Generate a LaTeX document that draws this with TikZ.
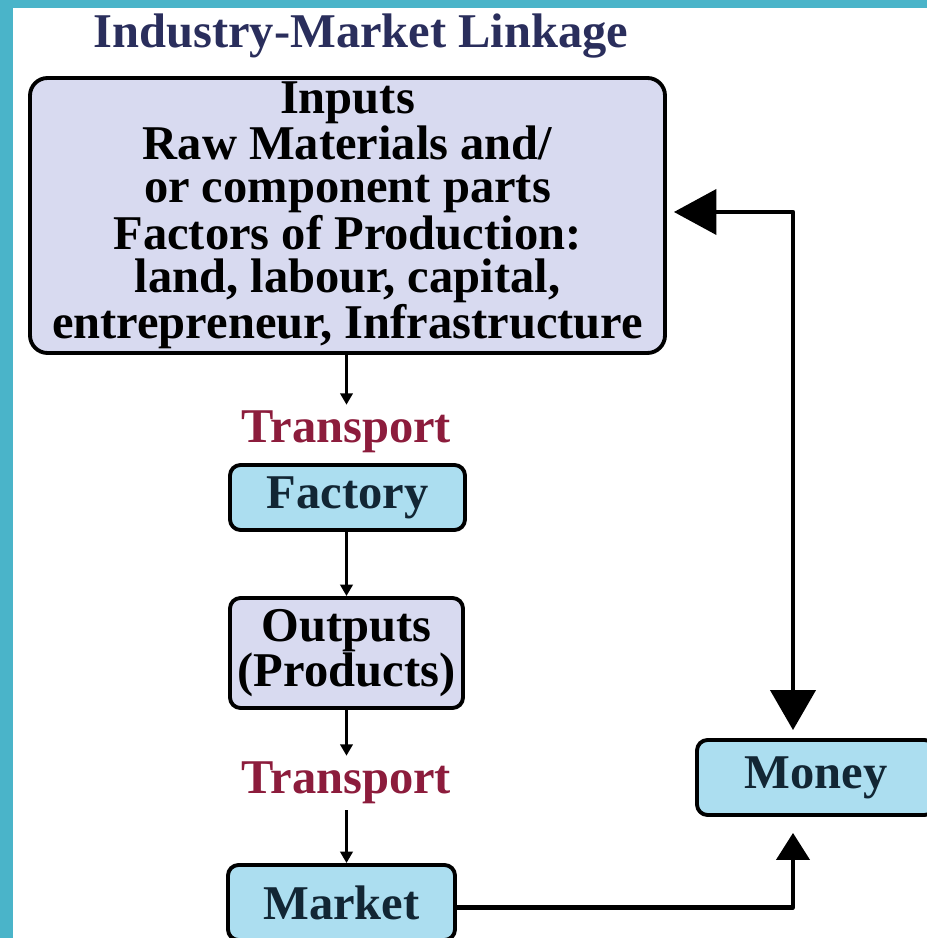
\documentclass[tikz,border=0pt]{standalone}
\usepackage{fontspec}
\setmainfont{Liberation Serif}
\usetikzlibrary{arrows.meta}

\definecolor{frame}{RGB}{74,180,201}
\definecolor{lavender}{RGB}{216,218,240}
\definecolor{skyfill}{RGB}{172,222,240}
\definecolor{titleblue}{RGB}{42,46,92}
\definecolor{transred}{RGB}{140,28,60}
\definecolor{ink}{RGB}{18,38,52}

\begin{document}
\begin{tikzpicture}[line join=round,
  font=\fontsize{27.6}{24.6}\selectfont\bfseries,
  box/.style={draw, line width=2.2pt, rounded corners=6pt, align=center, inner sep=0pt},
  flow/.style={-{Triangle[length=6.5pt,width=7pt]}, line width=1.8pt},
  link/.style={line width=2.4pt}]
  \useasboundingbox (0,0) rectangle (18.54,18.76);
  \fill[frame] (0,0) rectangle (.26,18.76);
  \fill[frame] (0,18.6) rectangle (18.54,18.76);
  \node[titleblue, anchor=base] (title) at (7.22,17.8) {Industry-Market Linkage};
  \node[box, fill=lavender, rounded corners=10pt, minimum width=12.7cm, minimum height=5.5cm] (inputs) at (6.95,14.45)
    {Inputs\\Raw Materials and/\\or component parts\\Factors of Production:\\land, labour, capital,\\entrepreneur, Infrastructure};
  \node[transred] (carry1) at (6.93,10.12) {Transport};
  \node[box, fill=skyfill, text=ink, minimum width=4.7cm, minimum height=1.3cm] (factory) at (6.95,8.81) {Factory};
  \node[box, fill=lavender, minimum width=4.66cm, minimum height=2.2cm] (outputs) at (6.93,5.70) {Outputs\\(Products)};
  \node[transred] (carry2) at (6.93,3.10) {Transport};
  \node[box, fill=skyfill, text=ink, minimum width=4.54cm, minimum height=1.5cm] (market) at (6.83,0.71) {Market};
  \node[box, fill=skyfill, text=ink, minimum width=4.76cm, minimum height=1.5cm] (money) at (16.32,3.21) {Money};
  \draw[flow] (inputs.south -| carry1) -- (carry1.north);
  \draw[flow] (factory.south -| carry1) -- (outputs.north -| carry1);
  \draw[flow] (outputs.south -| carry2) -- (carry2.north);
  \draw[flow] (carry2.south) -- (carry2.south |- market.north);
  \coordinate (turn) at (15.86,14.52);
  \draw[link, {Triangle[length=.85cm,width=.9cm]}-{Triangle[length=.8cm,width=.9cm]}, shorten <=.14cm, shorten >=.16cm]
    (inputs.east |- turn) -- (turn) -- (turn |- money.north);
  \draw[link, -{Triangle[length=.54cm,width=.66cm]}, shorten >=.32cm] ([yshift=-.1cm]market.east) -| (turn |- money.south);
\end{tikzpicture}
\end{document}
